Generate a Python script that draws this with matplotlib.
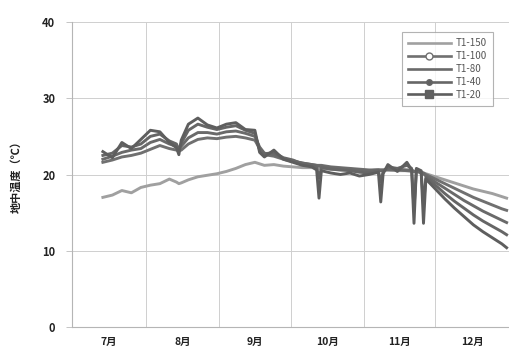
import matplotlib
matplotlib.use("Agg")
import matplotlib.pyplot as plt
from matplotlib.lines import Line2D

plt.rcParams['font.family'] = ['Noto Sans CJK JP', 'DejaVu Sans']

# Days counted from July 1
days = [13, 17, 21, 25, 29, 33, 37, 41, 44, 45, 46, 49, 53, 57, 61, 65, 69, 73, 77, 79, 81,
        85, 89, 93, 97, 101, 103, 104, 105, 109, 113, 117, 121, 125, 129, 130, 131, 133, 137,
        141, 143, 144, 145, 147, 148, 149, 153, 157, 161, 165, 169, 173, 177, 181, 183]

t150 = [17.0, 17.3, 17.9, 17.6, 18.3, 18.6, 18.8, 19.4, 19.0, 18.8, 18.9, 19.3, 19.7, 19.9, 20.1,
        20.4, 20.8, 21.3, 21.6, 21.4, 21.2, 21.3, 21.1, 21.0, 20.9, 20.9, 20.8, 20.8, 20.8, 20.7,
        20.6, 20.6, 20.5, 20.5, 20.6, 20.6, 20.6, 20.6, 20.5, 20.5, 20.4, 20.4, 20.4, 20.3, 20.2,
        20.1, 19.7, 19.3, 18.9, 18.5, 18.1, 17.8, 17.5, 17.1, 16.9]
t100 = [21.6, 21.9, 22.3, 22.5, 22.8, 23.3, 23.8, 23.4, 23.2, 23.1, 23.2, 24.0, 24.6, 24.8, 24.7,
        24.9, 25.0, 24.8, 24.5, 23.4, 22.6, 22.4, 22.0, 21.7, 21.5, 21.3, 21.2, 21.2, 21.2, 21.0,
        20.9, 20.8, 20.7, 20.6, 20.6, 20.6, 20.6, 20.6, 20.6, 20.5, 20.5, 20.4, 20.4, 20.3, 20.2,
        20.0, 19.4, 18.8, 18.2, 17.6, 17.0, 16.5, 16.0, 15.5, 15.3]
t80 = [22.0, 22.4, 22.9, 23.2, 23.4, 24.2, 24.6, 24.0, 23.7, 23.5, 23.7, 24.8, 25.5, 25.5, 25.3,
       25.6, 25.7, 25.4, 25.0, 23.6, 22.8, 22.6, 22.1, 21.8, 21.5, 21.3, 21.2, 21.1, 21.1, 20.9,
       20.8, 20.7, 20.6, 20.5, 20.6, 20.5, 20.5, 20.7, 20.7, 20.6, 20.6, 20.4, 20.5, 20.2, 20.1,
       19.8, 19.0, 18.2, 17.4, 16.6, 15.9, 15.2, 14.6, 14.0, 13.7]
t40 = [22.5, 22.8, 23.8, 23.6, 24.0, 25.0, 25.3, 24.4, 24.0, 23.2, 24.1, 25.8, 26.6, 26.2, 25.9,
       26.2, 26.4, 25.8, 25.4, 23.2, 22.7, 22.9, 22.2, 21.9, 21.4, 21.2, 21.0, 19.5, 20.9, 20.7,
       20.6, 20.5, 20.3, 20.2, 20.5, 19.0, 20.4, 21.0, 20.8, 21.2, 20.8, 15.5, 20.5, 20.4, 16.0,
       19.6, 18.6, 17.5, 16.5, 15.6, 14.7, 13.9, 13.2, 12.5, 12.1]
t20 = [23.0, 22.2, 24.2, 23.4, 24.6, 25.8, 25.6, 24.2, 23.5, 22.6, 24.5, 26.6, 27.4, 26.5, 26.1,
       26.6, 26.8, 25.9, 25.8, 22.9, 22.3, 23.2, 22.0, 21.6, 21.2, 21.0, 20.6, 16.9, 20.5, 20.2,
       20.0, 20.2, 19.8, 20.0, 20.3, 16.4, 20.1, 21.3, 20.4, 21.6, 20.6, 13.6, 20.8, 20.5, 13.6,
       19.4, 18.1, 16.8, 15.6, 14.5, 13.4, 12.5, 11.7, 10.9, 10.4]

series_labels = ["T1-150", "T1-100", "T1-80", "T1-40", "T1-20"]
month_starts = [0, 31, 62, 92, 123, 153, 184]
month_labels = ["7月", "8月", "9月", "10月", "11月", "12月"]
y_ticks = [0, 10, 20, 30, 40]

fig = plt.figure(figsize=(5.09, 3.58), dpi=100)
ax = fig.add_axes([72 / 509, 1 - 327 / 358, 437 / 509, 305 / 358])

colors = ['#a0a0a0', '#707070', '#6a6a6a', '#666666', '#5e5e5e']
markers = [None, 'o', None, 'o', 's']
mfc = [None, 'white', None, '#606060', '#606060']
msz = [0, 5, 0, 4, 6]
all_series = [t150, t100, t80, t40, t20]
handles = []
for s, c, lab, m, fc, ms in zip(all_series, colors, series_labels, markers, mfc, msz):
    ax.plot(days, s, color=c, lw=2.1, solid_joinstyle='round', zorder=3)
    handles.append(Line2D([0], [0], color=c, lw=1.9, marker=m, markersize=ms,
                          markerfacecolor=fc, markeredgecolor=c, label=lab))

ax.set_xlim(0, 184)
ax.set_ylim(0, 40)
ax.set_yticks(y_ticks)
ax.set_yticklabels([str(v) for v in y_ticks], fontsize=8, fontweight='bold', color='#222222')
ax.set_xticks(month_starts[1:-1])
ax.set_xticklabels([])
mids = [(a + b) / 2 for a, b in zip(month_starts[:-1], month_starts[1:])]
ax.set_xticks(mids, minor=True)
ax.set_xticklabels(month_labels, minor=True, fontsize=7.5, fontweight='bold', color='#222222')
ax.tick_params(axis='x', which='both', length=0, pad=7)
ax.tick_params(axis='y', length=4, width=0.6, color='#bbbbbb', pad=8)

ax.grid(True, which='major', color='#cfcfcf', lw=0.7)
ax.set_axisbelow(True)
for sp in ['top', 'right']:
    ax.spines[sp].set_visible(False)
for sp in ['left', 'bottom']:
    ax.spines[sp].set_color('#b5b5b5')
    ax.spines[sp].set_linewidth(0.8)

ax.set_ylabel("地中温度（℃）", fontsize=8, fontweight='bold', color='#222222', labelpad=14)

leg = ax.legend(handles=handles, loc='upper right', bbox_to_anchor=(0.963, 0.966),
                borderaxespad=0, fontsize=7, frameon=True, fancybox=False,
                handlelength=4.4, labelspacing=0.3, handletextpad=0.5, borderpad=0.6)
leg.get_frame().set_edgecolor('#a0a0a0')
leg.get_frame().set_linewidth(0.8)
for t in leg.get_texts():
    t.set_color('#555555')

fig.savefig("out.png", dpi=100)
